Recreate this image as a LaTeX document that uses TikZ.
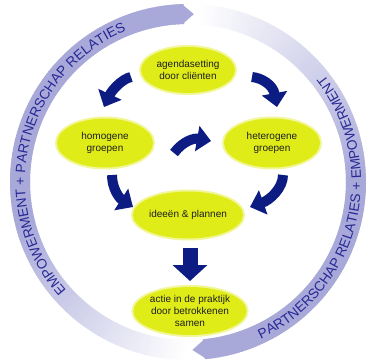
\documentclass[tikz,border=0pt]{standalone}
\usepackage{fontspec}
\setmainfont{Liberation Sans}
\usetikzlibrary{shapes.geometric,arrows.meta,decorations.text}
\definecolor{bandcol}{RGB}{168,169,217}
\definecolor{arctext}{RGB}{40,40,150}
\definecolor{arrowcol}{RGB}{12,28,130}
\definecolor{ellcol}{RGB}{224,236,24}
\definecolor{elltext}{RGB}{30,30,30}
\newcommand\arcfnt{\fontsize{13.8}{14}\selectfont}
\begin{document}
\begin{tikzpicture}[x=1pt,y=1pt,
  bubble/.style={ellipse, fill=ellcol, inner sep=0pt, align=center, text=elltext,
    font=\fontsize{10}{12}\selectfont, preaction={draw=ellcol!45!white, line width=4pt}},
  blockarrow/.style={draw=arrowcol, line width=10pt, -{Triangle[width=25pt,length=14pt]}},
  downarrow/.style={draw=arrowcol, line width=15pt, -{Triangle[width=34pt,length=16pt]}},
  bandseg/.style={line width=20pt}
]
\fill[white] (0,0) rectangle (369,360);
\useasboundingbox (0,0) rectangle (369,360);
\coordinate (ctr) at (188,178);

\begin{scope}[shift={(ctr)}]
  % left band (fades toward the bottom)
  \foreach \a in {270,269,...,93}{
    \pgfmathtruncatemacro\f{min(100,max(0,(270-\a)/75*100))}
    \draw[bandseg, bandcol!\f!white] (\a:168) arc[start angle=\a, delta angle=-1.6, radius=168];
  }
  \fill[bandcol] (92:158) -- (92:178) -- (88:168) -- cycle;
  % right band (fades toward the top)
  \foreach \a in {87,86,...,-83}{
    \pgfmathtruncatemacro\f{min(100,max(0,(87-\a)/85*100))}
    \draw[bandseg, bandcol!\f!white] (\a:168) arc[start angle=\a, delta angle=-1.6, radius=168];
  }
  \fill[bandcol] (-84:158) -- (-84:178) -- (-88.5:168) -- cycle;
  % texts on the bands
  \path[decorate, decoration={text along path, text align=center, text color=arctext,
      text={|\arcfnt|EMPOWERMENT + PARTNERSCHAP RELATIES}}]
    (237:163) arc[start angle=237, end angle=97, radius=163];
  \path[decorate, decoration={text along path, text align=center, text color=arctext,
      text={|\arcfnt|PARTNERSCHAP RELATIES + EMPOWERMENT}}]
    (-84:173) arc[start angle=-84, end angle=57, radius=173];
\end{scope}

% bubbles
\node[bubble, minimum width=94pt, minimum height=46pt] (agenda) at (188,290) {agendasetting\\door cliënten};
\node[bubble, minimum width=96pt, minimum height=49pt] (homo) at (105,217) {homogene\\groepen};
\node[bubble, minimum width=96pt, minimum height=49pt] (hetero) at (272,217) {heterogene\\groepen};
\node[bubble, minimum width=96pt, minimum height=47pt] (idee) at (188,145) {ideeën \& plannen};
\node[bubble, minimum width=98pt, minimum height=48pt] (actie) at (190,49) {actie in de praktijk\\door betrokkenen\\samen};

% arrows
\coordinate (a1) at (131,283); \coordinate (a1t) at (104,253);
\coordinate (a2) at (252,283); \coordinate (a2t) at (277,253);
\coordinate (a3) at (174,207); \coordinate (a3t) at (211,219);
\coordinate (a4) at (112,185); \coordinate (a4t) at (133,153);
\coordinate (a5) at (283,185); \coordinate (a5t) at (250,153);
\coordinate (a6) at (190,112); \coordinate (a6t) at (190,79);
\draw[blockarrow] (a1) .. controls (122,281) and (112,270) .. (a1t);
\draw[blockarrow] (a2) .. controls (262,282) and (273,275) .. (a2t);
\draw[blockarrow] (a3) .. controls (183,219) and (194,222) .. (a3t);
\draw[blockarrow] (a4) .. controls (112,172) and (119,162) .. (a4t);
\draw[blockarrow] (a5) .. controls (283,172) and (270,160) .. (a5t);
\draw[downarrow] (a6) -- (a6t);
\end{tikzpicture}
\end{document}
